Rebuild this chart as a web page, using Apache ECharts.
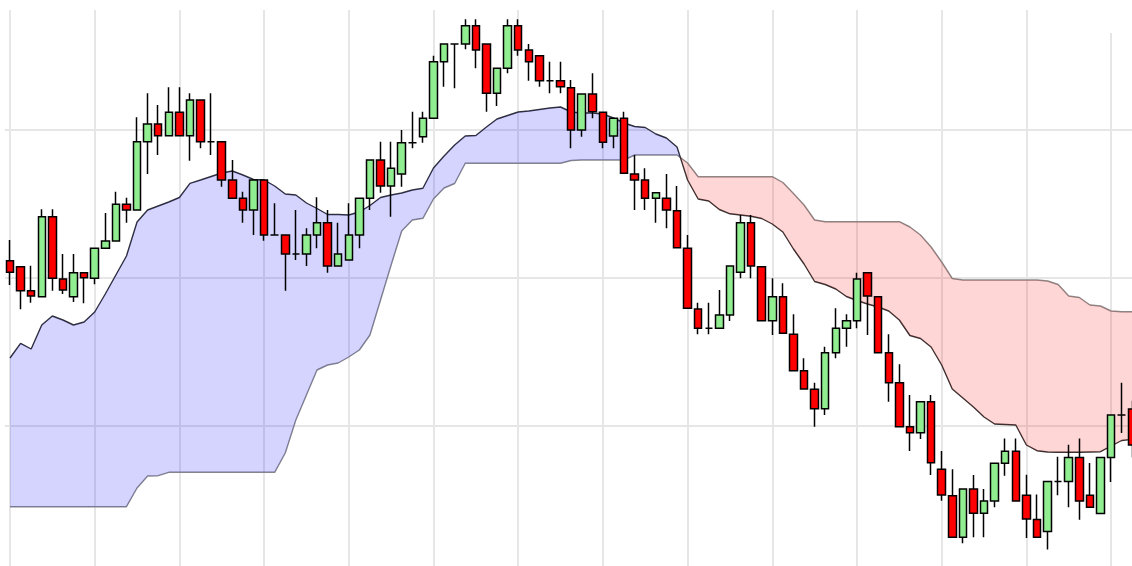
<!DOCTYPE html>
<html><head><meta charset="utf-8">
<script src="https://cdn.jsdelivr.net/npm/echarts@6/dist/echarts.min.js"></script>
<style>html,body{margin:0;padding:0;background:#fff;overflow:hidden}#c{width:1132px;height:566px}</style>
</head><body><div id="c"></div>
<script>
// Candle data (price units)
const opens = [313.3,307.3,283.3,277.3,357.3,295,277.3,301.3,295.7,325.7,333,369.7,364,432.3,450,438.3,461.7,438.3,474,432.3,
432.3,394,375.7,364,394,339,339,320,320,339,351.3,308,314,339,375.7,414,388,400,431.3,437.3,
455.7,512.3,530,530,548.3,530,480.7,505.7,548.3,524,518.3,493.3,493.3,486.3,444,480,461.7,438,455.7,400,
394,375.7,375.7,363.3,325.7,265,245.7,245.7,259,301.7,351.3,307.3,253.3,277.3,239.7,203.3,184.7,165.3,221.3,245.7,
253.3,301.3,277.3,221.3,191.3,147.3,141.3,172.3,104.7,78.3,36.7,85,60.7,73,110.8,122.7,78.7,54.5,42.5,92.5,
92.5,116.6,78.7,60.6,116.6,159,165];
const closes = [301.7,283.3,278,357.3,295.7,284,301.3,296.3,325.7,333,369.7,364,432.3,450,438.3,461.7,438.3,474,432.3,432.3,
394,375.7,364,394,339,339,320,320,339,351.3,308,320,339,375.7,414,388,405.7,431.3,431.3,455.7,
512.3,530,530,548.3,524,480.7,505.7,548.3,524,512.3,493.3,493.3,487.3,444,480,462.3,431.7,455.7,400.7,394,
375.7,381.3,364,326.3,265.7,245.7,245.7,259,308,351.3,308,253.3,277.3,240.7,203.3,185,165.3,221.3,245.7,253.3,
295,278,221.3,191.3,147.3,141.3,172.3,111.3,79,36.7,85,60.7,73,110.7,122.7,73,55,36.8,92.5,92.5,
116.6,73,66.8,116.6,159,159,129];
const lows = [289,264.7,271.3,277.3,283.3,280,272,270.7,289.7,325.7,333,351.3,364,400,419,438.3,438.3,413.3,425.7,419,
387.3,375.7,351.3,339,333.3,339,283.3,314,308,325.7,301.3,308,314,325.7,364,381.3,357.3,387.3,425.7,431.3,
455.7,487.3,485.7,524.7,505.7,462.3,468,500.7,518.3,493.3,487.3,480.7,480.7,425.7,437.3,455.7,425.7,425.7,400.7,364,
364,351.3,345.7,326.3,265.7,239.7,239.7,245.7,253,295.7,295.7,253.3,239,240.7,203.3,185,147.3,159,215.7,227.3,
245.7,239,221.3,172.3,147.3,123,135,99,73.3,36.7,30.7,36.7,36.7,66.8,98.2,73,36.1,36.8,24.5,78.7,
66.8,54.3,66.8,60.6,92,141,116.5];
const highs = [334,307.3,308.3,364.7,364.7,320,320,301.3,325.7,361,382.3,376.3,456.7,480.7,469,486.7,486.7,480.7,474,480.7,
432.3,414,382.3,394,394,370.7,339,364,345.7,376.7,364,351.3,370.7,375.7,414,432.3,432.3,444,462.3,462.3,
518.3,530,530,554.7,554.7,530,505.7,554.7,554.7,530,518.3,512.3,512.3,494,480,500.7,461.7,455.7,462.3,419,
405.7,381.3,400,388,339,271.3,271.3,284,308,359,359,307.3,295.7,290.7,259.7,215.7,191.3,227.3,265.7,259.7,
301.3,301.3,277.3,239.7,209.7,179,172.3,179,123,104.7,85,99,85,110.7,135.4,135.4,99.3,79.4,92.5,117.3,
129.2,135.4,111,116.6,159,191.3,173.3];
// Ichimoku cloud boundaries
const spanA = [216,230.7,225,249,258,254,249,252,262,280,299,318,352,364,368,372,376.5,390.7,394,397.5,
401,403,399,394.5,394,388,380,379,371,365.5,359.5,359.5,359,362,368.5,376.5,379,381,384,385.7,
406,418,429,438,438.5,447,455,458.5,462,463,464.5,466,467,462,461,461,460,456,451,447.5,
446.5,440,436,427,394,375,373,364.5,360.2,359,357.7,355.5,350,342,325,310,292.5,289.5,285,277.5,
273.5,270,267,263,254,238.5,235.5,227,209,185,176,167,157,150,149.5,149,129,123.3,122,121.7,
121.7,121.7,122,122.3,128,133.5,134.7];
const spanB = [67.3,67.3,67.3,67.3,67.3,67.3,67.3,67.3,67.3,67.3,67.3,67.3,86,98,98.3,101.7,101.7,101.7,101.7,101.7,
101.7,101.7,101.7,101.7,101.7,101.7,121,154,179,204,209,211,217,224,239,274,309,343,354,355.7,
375,386,390.5,410.7,410.7,410.7,410.7,410.7,410.7,410.7,410.7,410.7,410.7,413.5,414,414,414,414,414,419,
419,419,419,419,411,397.3,397.3,397.3,397.3,397.3,397.3,397.3,397.3,391.5,380.5,369,354,352.3,352.3,352.3,
352.3,352.3,352.3,352.3,352.3,347,339,327,312,295.5,294,294,294,294,294,294,294,294,293,289.5,
278,276.5,269,268,263,262.3,262.3];
const periods = opens.map((_, i) => String(i + 1));

const BLUE_FILL = 'rgba(0,0,255,0.17)';
const RED_FILL = 'rgba(255,0,0,0.16)';

function renderCloud(params, api) {
  const pts = spanA.map((a, i) => ({ a: api.coord([i, a]), b: api.coord([i, spanB[i]]), d: a - spanB[i] }));
  const children = [];
  let runA = [], runB = [], sign = null;
  function flush() {
    if (runA.length > 1) {
      children.push({ type: 'polygon', shape: { points: runA.concat(runB.slice().reverse()) },
        style: { fill: sign > 0 ? BLUE_FILL : RED_FILL, stroke: null } });
    }
  }
  for (let i = 0; i < pts.length; i++) {
    const p = pts[i];
    const s = p.d >= 0 ? 1 : -1;
    if (sign === null) sign = s;
    else if (s !== sign) {
      const q = pts[i - 1];
      const t = q.d / (q.d - p.d);
      const c = [q.a[0] + t * (p.a[0] - q.a[0]), q.a[1] + t * (p.a[1] - q.a[1])];
      runA.push(c); runB.push(c);
      flush();
      runA = [c]; runB = [c]; sign = s;
    }
    runA.push(p.a); runB.push(p.b);
  }
  flush();
  return { type: 'group', children };
}

const chart = echarts.init(document.getElementById('c'), null, { renderer: 'canvas' });
chart.setOption({
  animation: false,
  backgroundColor: '#ffffff',
  grid: { left: 4.7, top: 10, width: 1132.86, height: 564, containLabel: false, outerBoundsMode: 'none' },
  xAxis: {
    type: 'category', data: periods, boundaryGap: true,
    axisLine: { show: false }, axisTick: { show: false }, axisLabel: { show: false },
    splitLine: { show: true, interval: 7, alignWithLabel: true, lineStyle: { color: '#e6e6e6', width: 2 } }
  },
  yAxis: {
    type: 'value', min: 0, max: 564, interval: 148,
    axisLine: { show: false }, axisTick: { show: false }, axisLabel: { show: false },
    splitLine: { show: true, showMinLine: false, showMaxLine: false, lineStyle: { color: '#e6e6e6', width: 2 } }
  },
  graphic: [{ type: 'rect', left: 1108, top: 9, shape: { width: 7, height: 24 }, style: { fill: '#fff' }, z: 100, silent: true }],
  series: [
    { type: 'line', data: spanB, showSymbol: false, symbol: 'none', z: 1, silent: true,
      lineStyle: { color: '#8a8a8a', width: 1.4 } },
    { type: 'line', data: spanA, showSymbol: false, symbol: 'none', z: 1, silent: true,
      lineStyle: { color: '#333333', width: 1.4 } },
    { type: 'custom', renderItem: renderCloud, data: [[0, 0]], z: 2, silent: true },
    { type: 'candlestick', z: 3, barWidth: 8, clip: false,
      data: opens.map((o, i) => [o, closes[i], lows[i], highs[i]]),
      itemStyle: { color: '#90ee90', color0: '#ff0000', borderColor: '#000', borderColor0: '#000', borderWidth: 1.5 } }
  ]
});
</script></body></html>
